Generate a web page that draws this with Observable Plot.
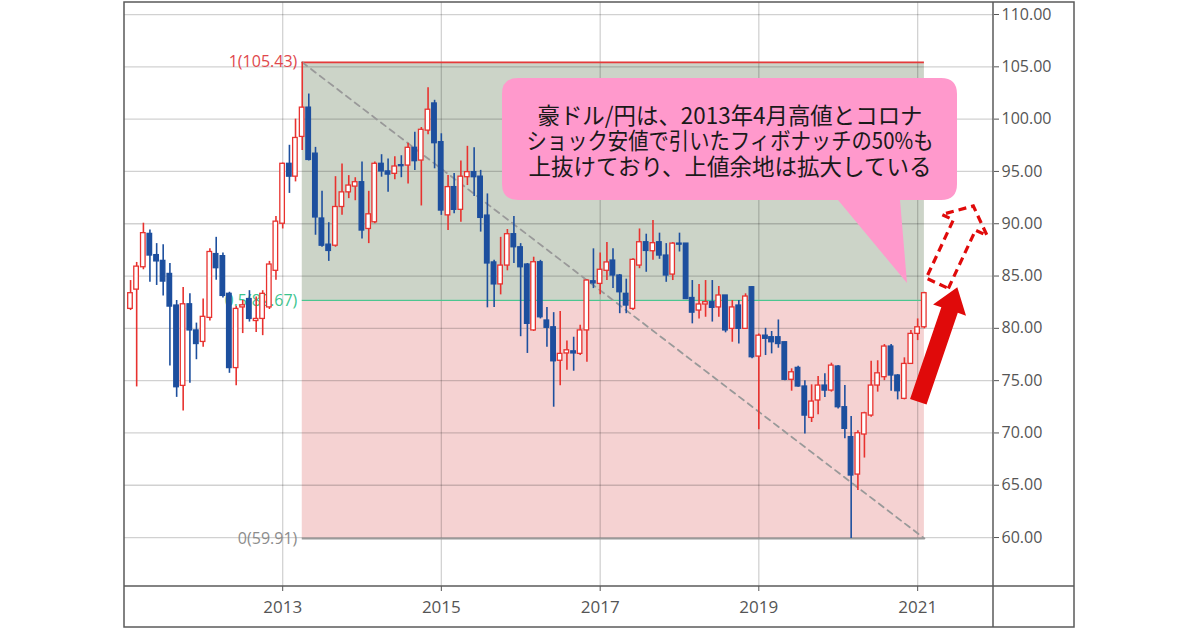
<!DOCTYPE html>
<html>
<head>
<meta charset="utf-8">
<script src="https://cdn.jsdelivr.net/npm/d3@7"></script>
<script src="https://cdn.jsdelivr.net/npm/@observablehq/plot@0.6"></script>
<style>
  html, body { margin: 0; padding: 0; background: #fff; }
  #wrap { position: relative; width: 1200px; height: 630px; overflow: hidden; }
  #overlay { position: absolute; left: 0; top: 0; pointer-events: none; }
</style>
</head>
<body>
<div id="wrap"></div>
<script>
// ---- Data (monthly AUD/JPY candles) ----
const months = [
  "2011-02","2011-03","2011-04","2011-05","2011-06","2011-07","2011-08","2011-09","2011-10","2011-11","2011-12",
  "2012-01","2012-02","2012-03","2012-04","2012-05","2012-06","2012-07","2012-08","2012-09","2012-10","2012-11","2012-12",
  "2013-01","2013-02","2013-03","2013-04","2013-05","2013-06","2013-07","2013-08","2013-09","2013-10","2013-11","2013-12",
  "2014-01","2014-02","2014-03","2014-04","2014-05","2014-06","2014-07","2014-08","2014-09","2014-10","2014-11","2014-12",
  "2015-01","2015-02","2015-03","2015-04","2015-05","2015-06","2015-07","2015-08","2015-09","2015-10","2015-11","2015-12",
  "2016-01","2016-02","2016-03","2016-04","2016-05","2016-06","2016-07","2016-08","2016-09","2016-10","2016-11","2016-12",
  "2017-01","2017-02","2017-03","2017-04","2017-05","2017-06","2017-07","2017-08","2017-09","2017-10","2017-11","2017-12",
  "2018-01","2018-02","2018-03","2018-04","2018-05","2018-06","2018-07","2018-08","2018-09","2018-10","2018-11","2018-12",
  "2019-01","2019-02","2019-03","2019-04","2019-05","2019-06","2019-07","2019-08","2019-09","2019-10","2019-11","2019-12",
  "2020-01","2020-02","2020-03","2020-04","2020-05","2020-06","2020-07","2020-08","2020-09","2020-10","2020-11","2020-12",
  "2021-01","2021-02"
];
const open = [
  81.86,83.70,85.84,89.03,87.00,86.45,85.20,82.18,74.50,82.30,79.80,
  78.70,81.00,87.10,86.90,83.30,76.20,82.00,82.80,80.70,80.90,82.00,85.50,
  90.00,95.73,94.50,98.30,101.10,96.70,90.50,88.00,87.90,91.60,93.00,93.55,
  93.97,89.50,90.14,95.73,95.00,94.77,95.60,95.56,97.26,96.04,98.90,101.50,
  97.80,90.80,93.50,91.33,94.45,94.93,94.50,90.78,86.30,84.20,86.00,89.00,
  87.75,86.10,79.80,86.32,80.75,80.10,76.90,77.60,77.80,77.56,79.80,84.50,
  84.25,85.50,86.48,85.05,83.30,81.86,86.00,88.23,87.37,88.23,86.96,85.14,
  88.10,88.10,82.90,81.70,82.28,82.50,82.00,83.14,79.95,82.18,79.95,83.93,
  77.30,79.30,79.15,79.15,78.67,75.08,76.22,74.44,71.44,73.10,74.53,74.05,
  76.35,72.46,69.60,66.02,69.85,71.66,74.53,75.33,78.26,75.49,73.26,76.60,
  79.47,80.10
];
const high = [
  84.57,86.30,90.05,89.40,88.10,88.00,86.20,82.66,83.90,83.30,80.50,
  82.80,87.60,88.70,87.20,83.45,82.08,82.66,83.60,83.00,83.60,86.40,90.70,
  95.80,97.50,100.00,105.43,102.40,97.30,93.10,90.10,94.50,95.70,94.60,94.40,
  95.90,93.10,95.90,96.60,96.20,96.40,96.50,97.70,98.75,99.20,103.00,101.80,
  98.60,94.60,94.80,96.00,97.40,97.26,95.10,92.85,86.50,88.70,89.45,90.70,
  88.10,86.20,86.80,86.50,82.00,81.50,81.60,78.80,79.15,80.30,84.64,87.60,
  87.20,88.20,87.60,85.15,84.70,86.65,89.50,89.00,90.30,89.10,88.10,88.20,
  89.10,88.10,84.57,84.20,84.57,84.57,84.00,83.14,82.66,82.66,83.30,84.00,
  79.47,80.00,79.70,80.80,78.70,76.13,76.38,75.00,74.60,75.40,75.65,76.67,
  76.44,74.53,71.57,70.20,71.98,76.85,76.90,78.45,78.45,75.58,77.18,79.80,
  80.90,83.45
];
const low = [
  81.70,74.40,85.60,84.40,84.10,83.10,76.40,73.40,72.10,74.75,77.00,
  78.20,80.70,84.60,82.90,75.70,74.50,79.50,80.60,79.60,79.30,81.80,84.60,
  89.50,92.90,94.00,97.00,96.00,88.90,87.75,86.40,87.75,90.80,92.40,92.20,
  88.55,88.10,90.00,94.45,93.00,94.20,94.40,93.80,95.10,91.70,98.50,95.25,
  90.80,89.35,90.95,90.14,93.65,92.60,89.20,81.96,82.00,83.20,85.50,86.20,
  79.20,77.60,79.70,80.90,78.20,72.46,74.50,76.00,75.90,77.40,76.76,83.80,
  83.20,84.57,83.80,81.40,81.40,81.70,85.70,85.36,86.50,86.60,84.40,84.57,
  87.30,82.75,80.43,80.90,81.06,80.60,81.06,79.57,78.67,78.50,79.90,77.10,
  70.30,77.40,77.56,78.10,75.00,73.99,74.37,69.91,71.00,71.73,73.40,73.90,
  72.30,69.44,59.91,64.50,67.60,71.50,73.90,75.00,73.99,73.16,73.16,76.54,
  78.83,79.95
];
const close = [
  83.36,85.90,89.10,86.96,86.40,84.47,82.08,74.37,82.30,79.80,78.50,
  81.10,87.30,85.75,83.10,76.20,81.86,82.20,80.90,80.90,83.30,86.10,90.20,
  95.73,94.50,98.20,101.10,96.10,90.60,87.90,87.40,91.60,93.00,93.65,93.97,
  89.35,90.90,95.73,95.00,94.70,95.47,95.50,97.26,95.98,98.98,100.90,97.70,
  91.26,93.50,91.33,94.50,94.93,94.45,90.56,86.20,84.20,86.00,89.00,87.75,
  85.84,80.43,86.32,81.06,80.05,76.85,77.56,77.90,77.60,79.80,84.57,84.30,
  85.60,86.30,85.05,83.45,82.18,86.55,88.23,87.40,88.14,86.96,85.05,88.10,
  88.00,82.80,81.50,82.28,82.50,81.96,83.14,79.80,82.00,79.95,83.04,77.24,
  79.30,79.00,78.67,78.50,75.08,75.80,74.44,71.66,73.00,74.53,74.05,76.44,
  72.46,70.39,65.93,69.97,71.88,74.53,75.70,78.26,75.49,73.99,76.60,79.47,
  80.10,83.36
];

// Fibonacci retracement (April 2013 high to March 2020 low)
const fibStartMonth = "2013-04";
const fibEndMonth = "2021-02";
const fibRatios = ["1", "0.5", "0"];
const fibValues = [105.43, 82.67, 59.91];

// Axis ticks
const yTicks = [60, 65, 70, 75, 80, 85, 90, 95, 100, 105, 110];
const xTickYears = [2013, 2015, 2017, 2019, 2021];

const calloutLines = [
  "豪ドル/円は、2013年4月高値とコロナ",
  "ショック安値で引いたフィボナッチの50%も",
  "上抜けており、上値余地は拡大している"
];

// ---- Build ----
const parseMonth = d3.utcParse("%Y-%m");
const candles = months.map((m, i) => ({
  date: parseMonth(m), open: open[i], high: high[i], low: low[i], close: close[i],
  up: close[i] >= open[i]
}));
const fibStart = parseMonth(fibStartMonth);
const fibEnd = parseMonth(fibEndMonth);
const fib = fibRatios.map((r, i) => ({ratio: r, value: fibValues[i]}));
const xTicks = xTickYears.map(y => new Date(Date.UTC(y, 0, 1)));

const UP = "#e8322f";
const DOWN = "#1d4f9e";
const FIB_COLORS = {"1": "#e0474c", "0.5": "#3cc48e", "0": "#8c8c8c"};
const FIB_LINE = {"1": "#e53a3a", "0.5": "#4cc590", "0": "#9a9a9a"};

const chart = Plot.plot({
  width: 1200,
  height: 630,
  marginLeft: 124,
  marginRight: 207,
  marginTop: 2,
  marginBottom: 44,
  style: {fontFamily: "'Open Sans', 'DejaVu Sans', sans-serif", fontSize: "16px", background: "white", overflow: "visible"},
  x: {type: "utc", domain: [new Date(Date.UTC(2011, 0, 4)), new Date(Date.UTC(2021, 11, 16))]},
  y: {domain: [55.32, 111.15]},
  color: {type: "identity"},
  marks: [
    // Fibonacci zones
    Plot.rect([fib[0]], {x1: () => fibStart, x2: () => fibEnd, y1: () => fib[1].value, y2: () => fib[0].value, fill: "#ccd4c8"}),
    Plot.rect([fib[2]], {x1: () => fibStart, x2: () => fibEnd, y1: () => fib[2].value, y2: () => fib[1].value, fill: "#f5d2d2"}),
    // grid
    Plot.ruleY(yTicks, {stroke: "#000", strokeOpacity: 0.18, strokeWidth: 1.3}),
    Plot.ruleX(xTicks, {stroke: "#000", strokeOpacity: 0.18, strokeWidth: 1.3}),
    // fib level lines
    Plot.ruleY(fib, {y: "value", x1: () => fibStart, x2: () => fibEnd, stroke: d => FIB_LINE[d.ratio], strokeWidth: d => d.ratio === "0.5" ? 1.3 : 1.8}),
    // fib labels
    Plot.text(fib, {x: () => fibStart, y: "value", text: d => `${d.ratio}(${d.value.toFixed(2)})`, fill: d => FIB_COLORS[d.ratio], textAnchor: "end", dx: -5, fontSize: 16}),
    // trend line between the two fib points
    Plot.line([{date: fibStart, v: fib[0].value}, {date: fibEnd, v: fib[2].value}], {x: "date", y: "v", stroke: "#999", strokeWidth: 1.8, strokeDasharray: "6,5"}),
    // candles: wicks
    Plot.ruleX(candles, {x: "date", y1: "low", y2: "high", stroke: d => d.up ? UP : DOWN, strokeWidth: 1.6}),
    // candles: bodies
    Plot.rect(candles, {
      x1: d => d3.utcDay.offset(d.date, -10.5),
      x2: d => d3.utcDay.offset(d.date, 10.5),
      y1: "open", y2: "close",
      fill: d => d.up ? "#ffffff" : DOWN,
      stroke: d => d.up ? UP : DOWN,
      strokeWidth: 1.3
    }),
    // axes
    Plot.axisY(yTicks, {anchor: "right", tickFormat: d => d.toFixed(2), tickSize: 5, tickPadding: 3, fontSize: 16, color: "#555"}),
    Plot.axisX(xTicks, {tickFormat: d3.utcFormat("%Y"), tickSize: 5, tickPadding: 9, fontSize: 17, color: "#555"})
  ]
});

const wrap = document.getElementById("wrap");
wrap.appendChild(chart);

// ---- Annotation overlay (frame, callout, arrows) ----
const ov = d3.select(wrap).append("svg").attr("id", "overlay").attr("width", 1200).attr("height", 630);

// frame
const fr = ov.append("g").attr("stroke", "#5a5a5a").attr("stroke-width", 1.5).attr("fill", "none");
fr.append("rect").attr("x", 124).attr("y", 2).attr("width", 950).attr("height", 625);
fr.append("line").attr("x1", 993).attr("x2", 993).attr("y1", 2).attr("y2", 627);
fr.append("line").attr("x1", 124).attr("x2", 1074).attr("y1", 586).attr("y2", 586);

// arrow polygon helper
function arrow(B, T, s, h, L) {
  const dx = T[0] - B[0], dy = T[1] - B[1];
  const len = Math.hypot(dx, dy);
  const u = [dx / len, dy / len], n = [-u[1], u[0]];
  const hb = [T[0] - u[0] * L, T[1] - u[1] * L];
  const p = (c, k) => [c[0] + n[0] * k, c[1] + n[1] * k];
  return [p(B, s), p(hb, s), p(hb, h), T, p(hb, -h), p(hb, -s), p(B, -s)].map(q => q.join(",")).join(" ");
}
ov.append("polygon").attr("points", arrow([918.3, 401.7], [957.3, 287.3], 8.7, 17.4, 24)).attr("fill", "#e00a0a");
ov.append("polygon").attr("points", arrow([937.3, 283.3], [973.3, 206], 12.2, 25, 21))
  .attr("fill", "none").attr("stroke", "#e00a0a").attr("stroke-width", 3.2).attr("stroke-dasharray", "8,5").attr("stroke-linejoin", "miter");

// callout
ov.append("path")
  .attr("d", "M518,78 H941 Q957,78 957,94 V184 Q957,200 941,200 H900 L907,283 L838,200 H518 Q502,200 502,184 V94 Q502,78 518,78 Z")
  .attr("fill", "#ff99cc");
const widths = [385, 407, 403];
const baselines = [124, 149, 175];
calloutLines.forEach((t, i) => {
  ov.append("text")
    .attr("x", 730).attr("y", baselines[i])
    .attr("text-anchor", "middle")
    .attr("font-family", "'Noto Sans CJK JP', sans-serif")
    .attr("font-size", 23)
    .attr("fill", "#1a1a1a")
    .attr("textLength", widths[i])
    .attr("lengthAdjust", "spacingAndGlyphs")
    .text(t);
});
</script>
</body>
</html>
